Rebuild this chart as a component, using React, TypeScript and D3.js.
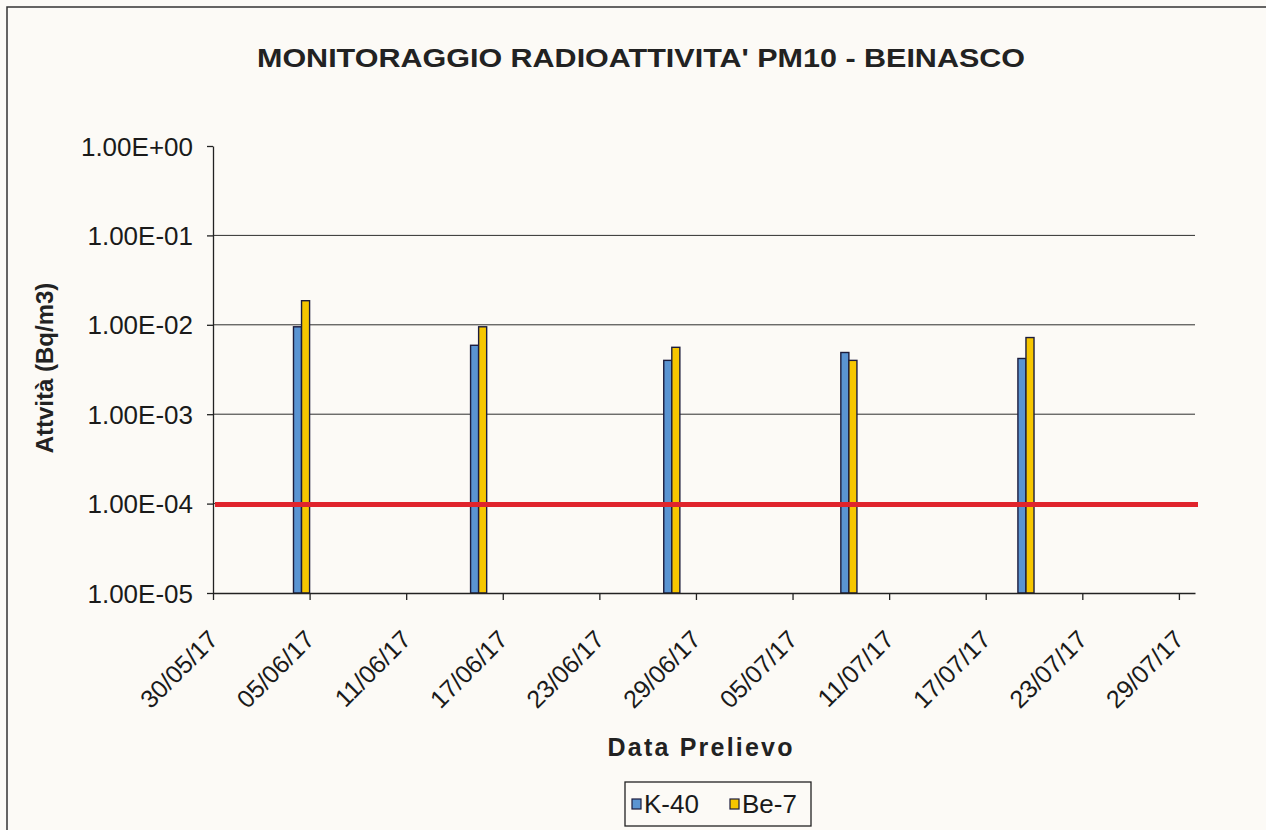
import React, { useEffect, useRef } from 'react';
import * as d3 from 'd3';

const sampleDates = ['04/06/17', '15/06/17', '27/06/17', '08/07/17', '19/07/17'];
const k40Values = [9.5e-3, 5.9e-3, 4.0e-3, 4.9e-3, 4.2e-3];
const be7Values = [1.86e-2, 9.5e-3, 5.6e-3, 4.0e-3, 7.2e-3];
const tickDates = ['30/05/17', '05/06/17', '11/06/17', '17/06/17', '23/06/17', '29/06/17', '05/07/17', '11/07/17', '17/07/17', '23/07/17', '29/07/17'];
const yTicks = [1, 1e-1, 1e-2, 1e-3, 1e-4, 1e-5];
const limitValue = 1e-4;
const seriesNames = ['K-40', 'Be-7'];
const seriesColors = ['#5a94d2', '#f6c600'];

const parseDate = d3.timeParse('%d/%m/%y');
const DAY = 24 * 3600 * 1000;

const W = 1266;
const H = 830;

const App: React.FC = () => {
  const svgRef = useRef<SVGSVGElement | null>(null);

  useEffect(() => {
    const svg = d3.select(svgRef.current);
    svg.selectAll('*').remove();

    const font = 'Liberation Sans, Arial, sans-serif';

    // background + chart frame
    svg.append('rect').attr('width', W).attr('height', H).attr('fill', '#fcfaf6');
    svg.append('rect')
      .attr('x', 7).attr('y', 7).attr('width', W + 10).attr('height', H + 10)
      .attr('fill', 'none').attr('stroke', '#333').attr('stroke-width', 1.5);

    const left = 213, right = 1195, top = 146, bottom = 593;

    const x0 = parseDate(tickDates[0])!;
    const x1 = new Date(parseDate(tickDates[tickDates.length - 1])!.getTime() + DAY);
    const x = d3.scaleTime().domain([x0, x1]).range([left, right]);
    const y = d3.scaleLog().domain([1e-5, 1]).range([bottom, top]);

    // title
    svg.append('text')
      .attr('x', 641).attr('y', 67)
      .attr('text-anchor', 'middle')
      .attr('font-family', font).attr('font-size', 26).attr('font-weight', 'bold')
      .attr('fill', '#222')
      .attr('textLength', 768).attr('lengthAdjust', 'spacingAndGlyphs')
      .text("MONITORAGGIO RADIOATTIVITA' PM10 - BEINASCO");

    // gridlines
    svg.append('g')
      .selectAll('line')
      .data(yTicks.filter(t => t < 1 && t > 1e-5))
      .join('line')
      .attr('x1', left).attr('x2', right)
      .attr('y1', d => y(d)).attr('y2', d => y(d))
      .attr('stroke', '#2e2e2e').attr('stroke-width', 1);

    // y axis
    const yAxis = svg.append('g')
      .attr('transform', `translate(${left},0)`)
      .call(d3.axisLeft(y).tickValues(yTicks).tickFormat(d => (d as number).toExponential(2).toUpperCase().replace(/E([+-])(\d)$/, 'E$10$2')).tickSize(6).tickSizeOuter(0));
    yAxis.select('.domain').attr('stroke', '#222').attr('stroke-width', 1.3);
    yAxis.selectAll('line').attr('stroke', '#222').attr('stroke-width', 1.3);
    yAxis.selectAll('text')
      .attr('font-family', font).attr('font-size', 26).attr('fill', '#1a1a1a')
      .attr('x', -20).attr('dy', '0.35em');

    // bars
    const barW = (x(new Date(x0.getTime() + DAY)) - x(x0)) / 2;
    const valuesBySeries = [k40Values, be7Values];
    valuesBySeries.forEach((vals, si) => {
      svg.append('g')
        .selectAll('rect')
        .data(vals)
        .join('rect')
        .attr('x', (_, i) => x(parseDate(sampleDates[i])!) + si * barW)
        .attr('y', d => y(d))
        .attr('width', barW)
        .attr('height', d => bottom - y(d))
        .attr('fill', seriesColors[si])
        .attr('stroke', '#1c1c3c').attr('stroke-width', 1.4);
    });

    // limit line
    svg.append('line')
      .attr('x1', left + 2).attr('x2', right + 3)
      .attr('y1', y(limitValue) + 1).attr('y2', y(limitValue) + 1)
      .attr('stroke', '#e0242c').attr('stroke-width', 5);

    // x axis
    const xAxis = svg.append('g')
      .attr('transform', `translate(0,${bottom})`)
      .call(d3.axisBottom(x).tickValues(tickDates.map(t => parseDate(t)!)).tickFormat(d3.timeFormat('%d/%m/%y') as any).tickSize(7).tickSizeOuter(0));
    xAxis.select('.domain').attr('stroke', '#222').attr('stroke-width', 1.3);
    xAxis.selectAll('line').attr('stroke', '#222').attr('stroke-width', 1.3);
    xAxis.selectAll('text')
      .attr('font-family', font).attr('font-size', 25).attr('fill', '#1a1a1a')
      .attr('text-anchor', 'end')
      .attr('y', 0).attr('dy', 0)
      .attr('transform', 'translate(6,48) rotate(-45)');

    // axis titles
    svg.append('text')
      .attr('transform', 'translate(53,368) rotate(-90)')
      .attr('text-anchor', 'middle')
      .attr('font-family', font).attr('font-size', 24).attr('font-weight', 'bold')
      .attr('fill', '#222')
      .text('Attvità (Bq/m3)');

    svg.append('text')
      .attr('x', 700).attr('y', 756)
      .attr('text-anchor', 'middle')
      .attr('font-family', font).attr('font-size', 25).attr('font-weight', 'bold')
      .attr('fill', '#222')
      .attr('textLength', 185).attr('lengthAdjust', 'spacing')
      .text('Data Prelievo');

    // legend
    const lg = svg.append('g').attr('transform', 'translate(625,782)');
    lg.append('rect').attr('width', 186).attr('height', 44)
      .attr('fill', '#fcfaf6').attr('stroke', '#222').attr('stroke-width', 1.3);
    seriesNames.forEach((name, i) => {
      const gx = 7 + i * 98;
      lg.append('rect').attr('x', gx).attr('y', 17).attr('width', 9).attr('height', 10)
        .attr('fill', seriesColors[i]).attr('stroke', '#1c1c3c').attr('stroke-width', 1.2);
      lg.append('text').attr('x', gx + 12).attr('y', 31)
        .attr('font-family', font).attr('font-size', 26).attr('fill', '#1a1a1a')
        .text(name);
    });
  }, []);

  return (
    <svg
      ref={svgRef}
      width={W}
      height={H}
      style={{ position: 'fixed', left: 0, top: 0, display: 'block' }}
    />
  );
};

export default App;
